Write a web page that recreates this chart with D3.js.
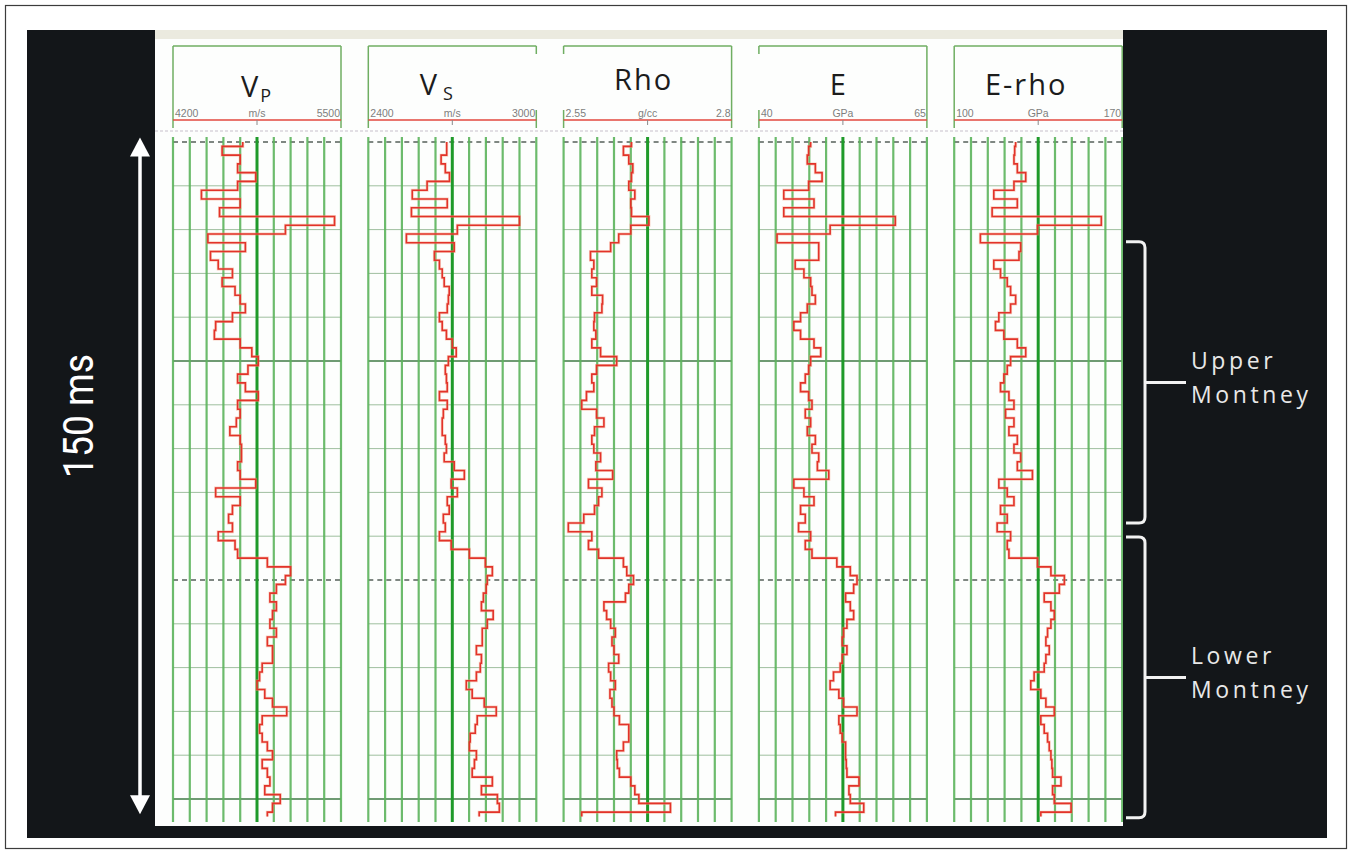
<!DOCTYPE html>
<html>
<head>
<meta charset="utf-8">
<script src="https://cdn.jsdelivr.net/npm/d3@7"></script>
<style>
  html, body { margin: 0; padding: 0; background: #ffffff; }
  svg { display: block; }
</style>
</head>
<body>
<svg id="chart" width="1352" height="854"></svg>
<script>
// ---- Log data: two-way time (ms below the top of the window) ----
const timeMs = [0,2,4,6,8,10,12,14,16,18,20,22,24,26,28,30,32,34,36,38,
  40,42,44,46,48,50,52,54,56,58,60,62,64,66,68,70,72,74,76,78,
  80,82,84,86,88,90,92,94,96,98,100,102,104,106,108,110,112,114,116,118,
  120,122,124,126,128,130,132,134,136,138,140,142,144,146,148,150,152,154];

// P-wave velocity (m/s)
const vp = [4740,4580,4720,4700,4840,4700,4420,4720,4560,5450,
  5070,4470,4760,4490,4550,4660,4580,4680,4720,4760,
  4660,4530,4520,4720,4810,4860,4780,4700,4760,4860,
  4700,4720,4690,4640,4720,4730,4730,4700,4720,4840,
  4530,4720,4660,4630,4660,4550,4680,4700,4930,5110,
  5070,5000,4950,5000,4970,4950,5000,4930,4970,4970,
  4890,4870,4850,4910,4970,5080,4890,4870,4890,4930,
  4970,4890,4930,4950,4910,5030,4970,4930];

// S-wave velocity (m/s)
const vs = [2680,2680,2660,2675,2690,2610,2557,2682,2554,2940,
  2718,2536,2707,2636,2654,2664,2671,2689,2686,2682,
  2654,2664,2679,2700,2714,2686,2675,2679,2682,2654,
  2682,2668,2664,2664,2675,2679,2671,2707,2743,2696,
  2718,2682,2689,2668,2675,2654,2696,2761,2818,2843,
  2825,2821,2811,2804,2846,2825,2807,2807,2786,2804,
  2800,2786,2750,2771,2814,2857,2789,2782,2764,2761,
  2786,2779,2771,2843,2804,2861,2868,2796];

// Bulk density (g/cc)
const rho = [2.651,2.639,2.647,2.653,2.651,2.647,2.656,2.650,2.651,2.677,
  2.650,2.632,2.620,2.590,2.595,2.592,2.599,2.592,2.608,2.607,
  2.596,2.595,2.598,2.592,2.605,2.629,2.599,2.592,2.595,2.584,
  2.577,2.599,2.610,2.596,2.592,2.595,2.605,2.598,2.623,2.587,
  2.607,2.602,2.596,2.580,2.557,2.592,2.587,2.602,2.639,2.644,
  2.654,2.647,2.642,2.610,2.614,2.620,2.627,2.622,2.625,2.632,
  2.617,2.620,2.627,2.619,2.622,2.625,2.633,2.647,2.647,2.639,
  2.629,2.630,2.633,2.650,2.656,2.662,2.709,2.577];

// Young's modulus (GPa)
const youngE = [47.7,47.4,47.2,48.4,49.4,47.4,43.7,48.2,43.7,60.3,
  50.6,42.7,48.9,48.9,45.4,46.7,47.7,47.9,48.4,47.2,
  46.2,45.2,46.2,48.2,49.2,47.7,47.4,46.9,46.2,47.4,
  47.9,46.9,47.7,47.2,48.4,47.9,48.9,48.7,50.4,45.2,
  46.7,48.2,46.2,46.9,45.9,47.7,46.9,47.9,51.6,53.6,
  54.6,54.1,52.9,53.6,54.1,53.1,52.6,52.4,53.1,52.4,
  52.1,51.1,50.6,51.9,52.6,54.6,51.9,52.1,52.4,52.9,
  52.9,53.0,53.1,54.9,53.4,53.6,55.6,51.4];

// Young's modulus times density
const eRho = [125.6,125.2,124.9,126.3,129.8,124.9,116.5,126.3,115.8,161.3,
  134.7,110.9,127.7,127.0,116.5,119.3,122.1,123.5,125.6,123.5,
  118.6,117.2,120.7,126.3,129.8,123.5,122.1,120.7,119.3,122.8,
  124.9,121.4,124.9,122.8,126.3,124.9,127.7,126.3,132.6,118.6,
  122.1,124.9,119.3,122.1,117.9,123.5,122.1,122.8,134.7,140.3,
  145.9,143.8,137.5,140.3,141.7,140.3,138.9,138.2,139.6,138.2,
  137.5,133.3,131.9,136.1,138.2,141.7,136.1,137.5,138.9,139.6,
  140.3,140.7,141.0,144.5,141.0,141.7,148.7,136.1];

// Track headers and scales
const trackTitles = ["V", "V", "Rho", "E", "E-rho"];
const trackSubscripts = ["P", "S", "", "", ""];
const scaleMin = [4200, 2400, 2.55, 40, 100];
const scaleMax = [5500, 3000, 2.8, 65, 170];
const scaleMinLabels = ["4200", "2400", "2.55", "40", "100"];
const scaleMaxLabels = ["5500", "3000", "2.8", "65", "170"];
const scaleUnits = ["m/s", "m/s", "g/cc", "GPa", "GPa"];
const seriesList = [vp, vs, rho, youngE, eRho];

// Formation intervals (ms)
const zoneTop = [22.8, 90.2];
const zoneBase = [87.0, 154.3];
const zoneLabels = [["Upper", "Montney"], ["Lower", "Montney"]];

// Interval marker on the left
const spanLabel = "150 ms";
const spanTop = -1;
const spanBase = 153.5;

// ---- Layout ----
const svg = d3.select("#chart");
const sheet = { x0: 155, x1: 1123, y0: 30, y1: 826 };
const firstTrackX = 173, trackStep = 195.3, trackWidth = 168;
const gridTop = 137, gridBottom = 822;
const titleShift = [-1, -16, -4, -4, -12];
const titleBaseline = [97, 95, 90, 95, 95];
const headerLeftSide = [true, true, false, false, true];
const headerRightSide = [true, false, true, true, true];

const y = d3.scaleLinear().domain([0, 155]).range([142, 142 + 155 * 4.38]);

// Page frame and dark backdrop
svg.append("rect").attr("x", 5.5).attr("y", 5.5).attr("width", 1341).attr("height", 843)
  .attr("fill", "#ffffff").attr("stroke", "#3c3c3c").attr("stroke-width", 1.2);
svg.append("rect").attr("x", 27).attr("y", 30).attr("width", 1300).attr("height", 808)
  .attr("fill", "#131619");

// Log sheet
svg.append("defs").append("clipPath").attr("id", "sheetClip")
  .append("rect").attr("x", sheet.x0).attr("y", sheet.y0)
  .attr("width", sheet.x1 - sheet.x0).attr("height", sheet.y1 - sheet.y0);
const g = svg.append("g").attr("clip-path", "url(#sheetClip)");
g.append("rect").attr("x", sheet.x0).attr("y", sheet.y0)
  .attr("width", sheet.x1 - sheet.x0).attr("height", sheet.y1 - sheet.y0)
  .attr("fill", "#fdfefd");
g.append("rect").attr("x", sheet.x0).attr("y", sheet.y0)
  .attr("width", sheet.x1 - sheet.x0).attr("height", 9)
  .attr("fill", "#ebeadf");
// header / track separator
g.append("line").attr("x1", sheet.x0).attr("x2", sheet.x1).attr("y1", 131).attr("y2", 131)
  .attr("stroke", "#c8bfcc").attr("stroke-width", 1.2).attr("stroke-dasharray", "3,2");

const gridColor = "#5cb45c";
const gridTicks = d3.range(0, 151, 10);

seriesList.forEach((series, i) => {
  const left = firstTrackX + i * trackStep;
  const right = left + trackWidth;
  const cx = (left + right) / 2;
  const x = d3.scaleLinear().domain([scaleMin[i], scaleMax[i]]).range([left, right]);
  const tg = g.append("g");

  // header box
  const stroke = "#6fae62";
  tg.append("line").attr("x1", left).attr("x2", right).attr("y1", 46).attr("y2", 46)
    .attr("stroke", stroke).attr("stroke-width", 1.5);
  [[left, headerLeftSide[i]], [right, headerRightSide[i]]].forEach(([sx, full]) => {
    if (full) {
      tg.append("line").attr("x1", sx).attr("x2", sx).attr("y1", 46).attr("y2", 128)
        .attr("stroke", stroke).attr("stroke-width", 1.5);
    } else {
      tg.append("line").attr("x1", sx).attr("x2", sx).attr("y1", 46).attr("y2", 54)
        .attr("stroke", stroke).attr("stroke-width", 1.5);
      tg.append("line").attr("x1", sx).attr("x2", sx).attr("y1", 110).attr("y2", 128)
        .attr("stroke", stroke).attr("stroke-width", 1.5);
    }
  });

  // title
  const title = tg.append("text").attr("x", cx + titleShift[i]).attr("y", titleBaseline[i])
    .attr("text-anchor", "middle").attr("font-family", "'Open Sans', 'DejaVu Sans', sans-serif")
    .attr("font-size", 29).attr("letter-spacing", 2).attr("fill", "#1c1c1c").text(trackTitles[i]);
  if (trackSubscripts[i]) {
    title.append("tspan").attr("font-size", 18).attr("dy", 5).attr("dx", i === 1 ? 4 : 0)
      .attr("letter-spacing", 0).text(trackSubscripts[i]);
  }

  // scale bar
  tg.append("line").attr("x1", left).attr("x2", right).attr("y1", 120).attr("y2", 120)
    .attr("stroke", "#e2483e").attr("stroke-width", 1.5);
  tg.append("line").attr("x1", cx).attr("x2", cx).attr("y1", 120).attr("y2", 125)
    .attr("stroke", "#8a8a8a").attr("stroke-width", 1);
  const addLab = (tx, anchor, s) => {
    tg.append("text").attr("x", tx).attr("y", 117).attr("text-anchor", anchor)
      .attr("font-family", "'Liberation Sans', Arial, sans-serif")
      .attr("font-size", 10.5).attr("fill", "#7e7e7e").text(s);
  };
  addLab(left + 2, "start", scaleMinLabels[i]);
  addLab(cx, "middle", scaleUnits[i]);
  addLab(right - 1, "end", scaleMaxLabels[i]);

  // horizontal grid
  gridTicks.forEach(t => {
    const yy = y(t);
    const major = t % 50 === 0;
    const dashed = t % 100 === 0;
    tg.append("line").attr("x1", left).attr("x2", right).attr("y1", yy).attr("y2", yy)
      .attr("stroke", dashed ? "#55605a" : (major ? "#3f7a45" : "#9fbf9f"))
      .attr("stroke-width", major ? 1.6 : 1)
      .attr("stroke-dasharray", dashed ? "5,4" : null);
  });

  // vertical grid: ten divisions, middle line emphasised
  d3.range(11).forEach(k => {
    const v = scaleMin[i] + (scaleMax[i] - scaleMin[i]) * k / 10;
    const xx = x(v);
    tg.append("line").attr("x1", xx).attr("x2", xx).attr("y1", gridTop).attr("y2", gridBottom)
      .attr("stroke", k === 5 ? "#1f9a2a" : gridColor)
      .attr("stroke-width", k === 5 ? 3 : 2.2)
      .attr("stroke-opacity", k === 5 ? 1 : 0.9);
  });

  // log curve: stepped along time. The line is generated with time on the
  // first axis, then the group swaps axes so time runs downward.
  const pts = timeMs.map((t, k) => ({ t, v: series[k] }));
  const line = d3.line().x(d => y(d.t)).y(d => x(d.v)).curve(d3.curveStep);
  const cg = tg.append("g").attr("transform", "matrix(0,1,1,0,0,0)");
  cg.append("path").datum(pts).attr("d", line)
    .attr("fill", "none").attr("stroke", "#f39a7a").attr("stroke-width", 3).attr("stroke-opacity", 0.45);
  cg.append("path").datum(pts).attr("d", line)
    .attr("fill", "none").attr("stroke", "#e2332a").attr("stroke-width", 1.6);
});

// ---- Interval arrow on the left ----
const ax = 140;
const aTop = y(spanTop), aBot = y(spanBase);
svg.append("line").attr("x1", ax).attr("x2", ax).attr("y1", aTop + 14).attr("y2", aBot - 14)
  .attr("stroke", "#ffffff").attr("stroke-width", 3.5);
svg.append("path").attr("d", `M${ax},${aTop} L${ax + 10},${aTop + 19} L${ax - 10},${aTop + 19} Z`).attr("fill", "#ffffff");
svg.append("path").attr("d", `M${ax},${aBot} L${ax + 10},${aBot - 19} L${ax - 10},${aBot - 19} Z`).attr("fill", "#ffffff");
svg.append("text")
  .attr("transform", "translate(93, 416) rotate(-90)")
  .attr("text-anchor", "middle")
  .attr("font-family", "Roboto, 'Open Sans', sans-serif")
  .attr("font-size", 42).attr("fill", "#ffffff")
  .attr("textLength", 124).attr("lengthAdjust", "spacingAndGlyphs")
  .text(spanLabel);

// ---- Formation brackets on the right ----
const tipX = 1126, spineX = 1145, stubX = 1186, r = 6;
zoneTop.forEach((zt, i) => {
  const y0 = y(zt), y1 = y(zoneBase[i]), ym = (y0 + y1) / 2;
  svg.append("path")
    .attr("d", `M${tipX},${y0} L${spineX - r},${y0} Q${spineX},${y0} ${spineX},${y0 + r}` +
               ` L${spineX},${y1 - r} Q${spineX},${y1} ${spineX - r},${y1} L${tipX},${y1}` +
               ` M${spineX},${ym} L${stubX},${ym}`)
    .attr("fill", "none").attr("stroke", "#f2f2f2").attr("stroke-width", 3);
  zoneLabels[i].forEach((word, k) => {
    svg.append("text").attr("x", 1191).attr("y", ym - 13 + k * 34)
      .attr("font-family", "'Open Sans', sans-serif")
      .attr("font-size", 23).attr("fill", "#e8e8e8").attr("letter-spacing", 3.6)
      .text(word);
  });
});
</script>
</body>
</html>
